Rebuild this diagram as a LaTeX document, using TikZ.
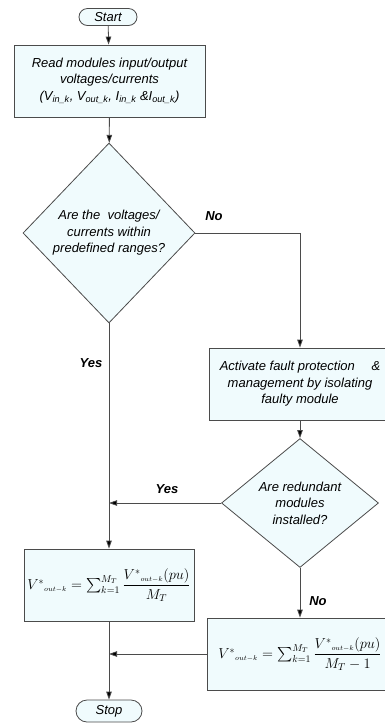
\documentclass[tikz,border=0pt]{standalone}
\usepackage{amsmath}
\usepackage{fontspec}
\setmainfont{Liberation Sans}
\usetikzlibrary{shapes.geometric,shapes.misc,arrows.meta}
\definecolor{boxfill}{RGB}{240,251,253}
\definecolor{linegray}{RGB}{75,75,75}
\newcommand{\sub}[1]{\textsubscript{\itshape #1}}
\tikzset{
  base/.style={draw=linegray, fill=boxfill, line width=0.8pt, align=center,
    inner sep=1pt, font=\fontsize{13}{16.5}\selectfont\itshape},
  terminal/.style={base, rounded rectangle},
  process/.style={base, rectangle},
  decision/.style={base, diamond},
  formula/.style={process, font=\fontsize{14}{17}\selectfont},
  answer/.style={font=\fontsize{13}{16}\selectfont\bfseries\itshape},
  flow/.style={draw=linegray, line width=0.8pt},
}
\begin{document}
\begin{tikzpicture}[x=1pt, y=-1pt, >={Triangle[length=8pt,width=5.5pt,fill=black]}]
        \useasboundingbox (0,0) rectangle (385,724);
        % nodes
        \node[terminal, minimum width=60pt, minimum height=17pt] (start) at (108,17) {Start};
        \node[process, minimum width=191pt, minimum height=72pt] (read) at (109.5,81)
            {Read modules input/output\\ voltages/currents\\
             (V\sub{in\_k}, V\sub{out\_k}, I\sub{in\_k} \&I\sub{out\_k})};
        \node[decision, minimum width=172pt, minimum height=180pt] (check) at (109,233)
            {Are the\ \ voltages/\\ currents within\\ predefined ranges?};
        \node[process, minimum width=182pt, minimum height=72pt] (fault) at (300,384)
            {Activate fault protection\quad\ \&\\ management by isolating\\ faulty module};
        \node[decision, minimum width=157pt, minimum height=119pt] (redund) at (300,503)
            {Are redundant\\ modules\\ installed?};
        \node[formula, minimum width=170pt, minimum height=72pt] (avgall) at (109,585)
            {$V^{*}{}_{\scriptscriptstyle out-k}=\textstyle\sum_{k=1}^{M_T}\dfrac{V^{*}{}_{\scriptscriptstyle out-k}(pu)}{M_T}$};
        \node[formula, minimum width=186pt, minimum height=72pt] (avgred) at (300,654)
            {$V^{*}{}_{\scriptscriptstyle out-k}=\textstyle\sum_{k=1}^{M_T}\dfrac{V^{*}{}_{\scriptscriptstyle out-k}(pu)}{M_T-1}$};
        \node[terminal, minimum width=68pt, minimum height=22pt] (stop) at (109,711) {Stop};
        % labels
        \node[answer] (no1) at (214,216) {No};
        \node[answer] (yes1) at (91,363) {Yes};
        \node[answer] (yes2) at (167,489) {Yes};
        \node[answer] (no2) at (318,601) {No};
        % connectors
        \draw[flow, ->] (start) -- (read);
        \draw[flow, ->] (read) -- (check);
        \draw[flow, ->] (check.east) -| (fault.north);
        \draw[flow, ->] (check.south) -- (avgall.north);
        \draw[flow, ->] (fault) -- (redund);
        \draw[flow, ->] (redund.west) -- (redund.west -| check.south);
        \draw[flow, ->] (redund.south) -- (avgred.north);
        \draw[flow, ->] (avgall.south) -- (stop.north);
        \draw[flow, ->] (avgred.west) -- (avgred.west -| avgall.south);
\end{tikzpicture}
\end{document}
